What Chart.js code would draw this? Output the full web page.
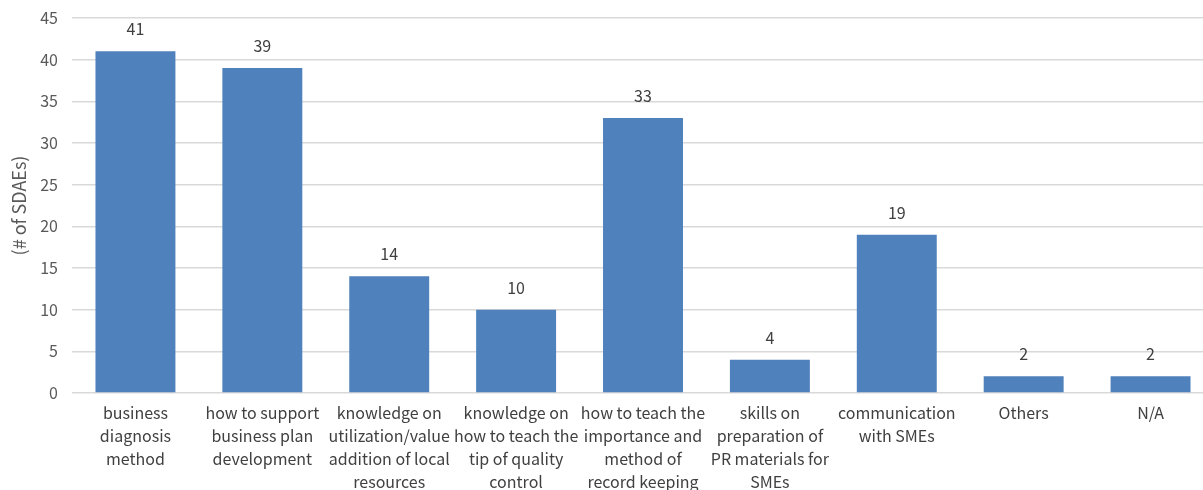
<!DOCTYPE html>
<html>
<head>
<meta charset="utf-8">
<script src="https://cdn.jsdelivr.net/npm/chart.js@4/dist/chart.umd.min.js"></script>
<style>
  html, body { margin: 0; padding: 0; background: #fff; overflow: hidden; }
  #wrap { width: 1214px; height: 490px; }
</style>
</head>
<body>
<div id="wrap"><canvas id="mainChart" width="1214" height="490"></canvas></div>
<script>
const categories = [
    ['business', 'diagnosis', 'method'],
    ['how to support', 'business plan', 'development'],
    ['knowledge on', 'utilization/value', 'addition of local', 'resources'],
    ['knowledge on', 'how to teach the', 'tip of quality', 'control'],
    ['how to teach the', 'importance and', 'method of', 'record keeping'],
    ['skills on', 'preparation of', 'PR materials for', 'SMEs'],
    ['communication', 'with SMEs'],
    ['Others'],
    ['N/A']
];
const counts = [41, 39, 14, 10, 33, 4, 19, 2, 2];
const yMin = 0, yMax = 45, yStep = 5;
const axisTitle = '(# of SDAEs)';

const FONT = "'Noto Sans CJK JP', 'Noto Sans', sans-serif";

// draws the count above each bar
const valueLabels = {
    id: 'valueLabels',
    afterDatasetsDraw(chart) {
        const ctx = chart.ctx;
        const meta = chart.getDatasetMeta(0);
        ctx.save();
        ctx.font = '16px ' + FONT;
        ctx.fillStyle = '#404040';
        ctx.textAlign = 'center';
        ctx.textBaseline = 'middle';
        meta.data.forEach((bar, i) => {
            ctx.fillText(String(counts[i]), bar.x, bar.y - 22);
        });
        ctx.restore();
    }
};

const ctx = document.getElementById('mainChart').getContext('2d');
new Chart(ctx, {
    type: 'bar',
    data: {
        labels: categories,
        datasets: [{
            data: counts,
            backgroundColor: '#4F81BD',
            borderWidth: 0,
            categoryPercentage: 1,
            barPercentage: 0.63
        }]
    },
    options: {
        responsive: false,
        animation: false,
        layout: { padding: 0 },
        plugins: { legend: { display: false }, tooltip: { enabled: false } },
        scales: {
            x: {
                grid: { display: false },
                border: { display: false },
                ticks: {
                    color: '#404040',
                    font: { family: FONT, size: 16, lineHeight: 1.42 },
                    maxRotation: 0, minRotation: 0, autoSkip: false,
                    padding: 1
                },
                afterFit(axis) { axis.height = 97; }
            },
            y: {
                min: yMin, max: yMax,
                grid: { color: '#d9d9d9', lineWidth: 1.5, drawTicks: false },
                border: { display: false },
                ticks: {
                    stepSize: yStep,
                    color: '#595959',
                    font: { family: FONT, size: 16 },
                    padding: 14
                },
                title: {
                    display: true,
                    text: axisTitle,
                    color: '#595959',
                    font: { family: FONT, size: 18 },
                    padding: { top: 8, bottom: 0 }
                },
                afterFit(axis) {
                    axis.width = 72;
                    axis.paddingTop = 18;
                }
            }
        }
    },
    plugins: [valueLabels]
});
</script>
</body>
</html>
